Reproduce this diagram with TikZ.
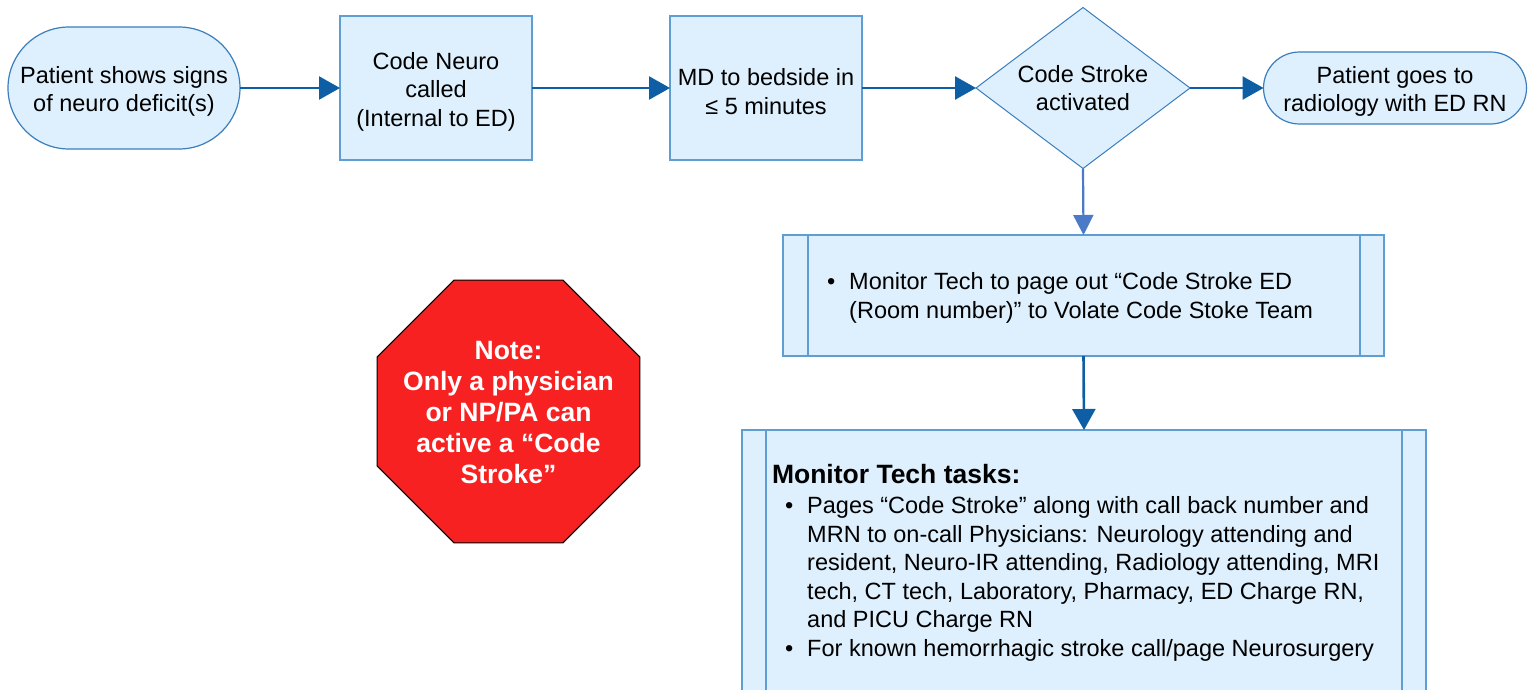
\documentclass[tikz,border=0pt]{standalone}
\usepackage{fontspec}
\setmainfont{Liberation Sans}
\usetikzlibrary{arrows.meta,shapes.geometric}
\definecolor{boxfill}{HTML}{DEF0FD}
\definecolor{termline}{HTML}{3B7EBD}
\definecolor{boxline}{HTML}{5E9ED3}
\definecolor{arrowblue}{HTML}{0E5EA5}
\definecolor{arrowlight}{HTML}{4B7BC6}
\definecolor{stopred}{HTML}{F82121}
\begin{document}
\begin{tikzpicture}[x=1pt,y=-1pt,
  every node/.style={font=\fontsize{23.5}{28.5}\selectfont, inner sep=0pt, outer sep=0pt},
  term/.style={draw=termline, line width=1.2pt, fill=boxfill, align=center},
  proc/.style={draw=boxline, line width=1.5pt, fill=boxfill, align=center},
  flow/.style={draw=arrowblue, line width=2.6pt, -{Triangle[length=21pt,width=23pt]}},
  flowlight/.style={draw=arrowlight, line width=2.2pt, -{Triangle[length=20pt,width=20pt]}},
  procline/.style={draw=boxline, line width=1.5pt},
  notefont/.style={font=\bfseries\fontsize{26.5}{31}\selectfont}
]
\useasboundingbox (0,0) rectangle (1530,690);
\clip (0,0) rectangle (1530,690);

% top row
\node[term, minimum width=232pt, minimum height=122pt, rounded corners=61pt] (t1) at (124,88) {\rule{0pt}{24pt}Patient shows signs\\of neuro deficit(s)};
\node[proc, minimum width=192pt, minimum height=144pt] (b1) at (436,88) {\rule{0pt}{24pt}Code Neuro\\called\\(Internal to ED)};
\node[proc, minimum width=192pt, minimum height=144pt] (b2) at (766,88) {\rule{0pt}{24pt}MD to bedside in\\≤ 5 minutes};
\node[diamond, aspect=1.33, draw=termline, line width=1pt, fill=boxfill, minimum width=214pt, minimum height=161pt, align=center] (d) at (1083,88) {Code Stroke\\activated};
\node[term, minimum width=263pt, minimum height=72pt, rounded corners=36pt] (t2) at (1395,88) {\rule{0pt}{24pt}Patient goes to\\radiology with ED RN};

% predefined process 1
\node[proc, minimum width=601pt, minimum height=121pt] (p1) at (1083.5,295.5) {};
\draw[procline] ([xshift=25pt]p1.north west) -- ([xshift=25pt]p1.south west);
\draw[procline] ([xshift=-24pt]p1.north east) -- ([xshift=-24pt]p1.south east);
\node[anchor=west, align=left] (p1t) at (827,298.5) {\begin{tabular}{@{}l@{\hspace{14pt}}l@{}}
•&Monitor Tech to page out “Code Stroke ED\\
&(Room number)” to Volate Code Stoke Team
\end{tabular}};

% predefined process 2
\node[proc, minimum width=684pt, minimum height=264pt] (p2) at (1084,562) {};
\draw[procline] ([xshift=24pt]p2.north west) -- ([xshift=24pt]p2.south west);
\draw[procline] ([xshift=-24pt]p2.north east) -- ([xshift=-24pt]p2.south east);
\node[anchor=west, align=left] (p2t) at (772,564) {\begin{tabular}{@{\hspace{13pt}}l@{\hspace{14pt}}l@{}}
\multicolumn{2}{@{}l@{}}{\bfseries\fontsize{26.5}{31}\selectfont Monitor Tech tasks:}\\[2pt]
•&Pages “Code Stroke” along with call back number and\\
&MRN to on-call Physicians: Neurology attending and\\
&resident, Neuro-IR attending, Radiology attending, MRI\\
&tech, CT tech, Laboratory, Pharmacy, ED Charge RN,\\
&and PICU Charge RN\\
•&For known hemorrhagic stroke call/page Neurosurgery
\end{tabular}};

% stop sign
\node[regular polygon, regular polygon sides=8, minimum size=284.6pt, draw=black, line width=1pt, fill=stopred] (oct) at (508.5,411.5) {};
\node[notefont, text=white, align=center] (octt) at (508.5,412.5) {Note:\\Only a physician\\or NP/PA can\\active a “Code\\Stroke”};

% connectors
\draw[flow] (t1.east) -- (b1.west);
\draw[flow] (b1.east) -- (b2.west);
\draw[flow] (b2.east) -- (d.west);
\draw[flow] (d.east) -- (t2.west);
\draw[flowlight] (d.south) -- (p1.north);
\draw[flow] (p1.south) -- (p2.north);
\end{tikzpicture}
\end{document}
